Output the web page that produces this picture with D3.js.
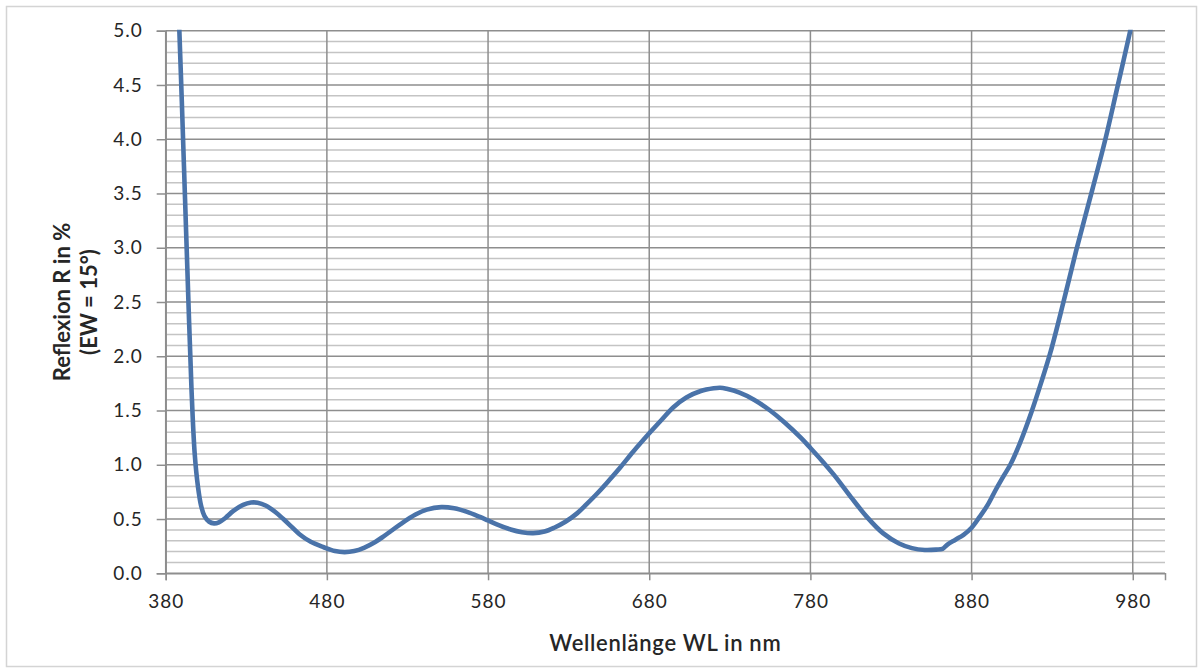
<!DOCTYPE html>
<html>
<head>
<meta charset="utf-8">
<script src="https://cdn.jsdelivr.net/npm/d3@7"></script>
<style>
  html, body { margin: 0; padding: 0; background: #fff; }
  svg { display: block; }
  text { font-family: Lato, "Open Sans", sans-serif; fill: #262626; }
</style>
</head>
<body>
<svg id="chart" width="1203" height="672"></svg>
<script>
// Reflection spectrum of the coating, angle of incidence 15°
const wavelength = [385, 387, 388, 390, 392, 394, 396, 398, 400, 402, 404, 407, 410, 413, 417, 422, 428, 433, 437, 442, 448, 453, 458, 463, 470, 478, 485, 491, 497, 503, 510, 515, 520, 526, 535, 542, 551, 559, 567, 575, 580, 587, 594, 601, 608, 615, 621, 628, 635, 641, 648, 655, 662, 670, 680, 688, 695, 703, 712, 720, 724, 728, 736, 745, 755, 764, 774, 780, 787, 795, 805, 815, 825, 835, 843, 851, 858, 862, 865, 870, 875, 880, 885, 890, 895, 900, 904, 910, 917, 923, 929, 937, 945, 955, 963, 970, 978, 985];
const reflection = [6.3, 5.65, 5.2, 4.35, 3.45, 2.55, 1.7, 1.1, 0.8, 0.62, 0.53, 0.475, 0.46, 0.47, 0.51, 0.575, 0.63, 0.652, 0.65, 0.625, 0.565, 0.5, 0.43, 0.36, 0.29, 0.24, 0.205, 0.195, 0.205, 0.235, 0.289, 0.338, 0.392, 0.456, 0.541, 0.587, 0.61, 0.599, 0.566, 0.519, 0.487, 0.442, 0.404, 0.379, 0.37, 0.385, 0.42, 0.475, 0.55, 0.635, 0.74, 0.855, 0.975, 1.12, 1.29, 1.42, 1.53, 1.62, 1.68, 1.705, 1.71, 1.7, 1.665, 1.6, 1.5, 1.39, 1.25, 1.155, 1.04, 0.9, 0.705, 0.52, 0.37, 0.275, 0.232, 0.215, 0.218, 0.225, 0.265, 0.31, 0.355, 0.42, 0.52, 0.63, 0.77, 0.9, 1.0, 1.2, 1.48, 1.75, 2.04, 2.5, 2.98, 3.54, 4.0, 4.45, 4.97, 5.45];

const xTicks = [380, 480, 580, 680, 780, 880, 980];
const yTicks = [0, 0.5, 1, 1.5, 2, 2.5, 3, 3.5, 4, 4.5, 5];
const yMinorTicks = d3.range(0, 51).map(i => i / 10);

const xTitle = "Wellenlänge WL in nm";
const yTitleLines = ["Reflexion R in %", "(EW = 15°)"];

const svg = d3.select("#chart");

// chart area frame
svg.append("rect")
  .attr("x", 6.5).attr("y", 6.5)
  .attr("width", 1190).attr("height", 660)
  .attr("fill", "#fff").attr("stroke", "#d4d4d4").attr("stroke-width", 1.5);

const plotLeft = 165.7, plotRight = 1165, plotTop = 30.7, plotBottom = 573.3;

const x = d3.scaleLinear().domain([380, 1000]).range([plotLeft, plotRight]);
const y = d3.scaleLinear().domain([0, 5]).range([plotBottom, plotTop]);

// minor horizontal gridlines
svg.append("g").selectAll("line")
  .data(yMinorTicks.filter(v => Math.round(v * 10) % 5 !== 0))
  .join("line")
  .attr("x1", plotLeft).attr("x2", plotRight)
  .attr("y1", d => y(d)).attr("y2", d => y(d))
  .attr("stroke", "#c4c4c4").attr("stroke-width", 1.5);

// major horizontal gridlines
svg.append("g").selectAll("line")
  .data(yTicks)
  .join("line")
  .attr("x1", plotLeft).attr("x2", plotRight)
  .attr("y1", d => y(d)).attr("y2", d => y(d))
  .attr("stroke", "#8e8e8e").attr("stroke-width", 1.5);

// vertical gridlines
svg.append("g").selectAll("line")
  .data(xTicks)
  .join("line")
  .attr("x1", d => x(d)).attr("x2", d => x(d))
  .attr("y1", plotTop).attr("y2", plotBottom)
  .attr("stroke", "#8e8e8e").attr("stroke-width", 1.5);

// y axis
const yAxis = svg.append("g")
  .attr("transform", `translate(${plotLeft},0)`)
  .call(d3.axisLeft(y).tickValues(yTicks).tickFormat(d3.format(".1f")).tickSize(9).tickPadding(14));
yAxis.select(".domain").attr("stroke", "#8e8e8e").attr("stroke-width", 1.5);
yAxis.selectAll(".tick line").attr("stroke", "#8e8e8e").attr("stroke-width", 1.5);
yAxis.selectAll(".tick text")
  .style("font-family", "Lato, 'Open Sans', sans-serif")
  .style("font-size", "19px").style("letter-spacing", "1px").attr("fill", "#262626");

// x axis
const xAxis = svg.append("g")
  .attr("transform", `translate(0,${plotBottom})`)
  .call(d3.axisBottom(x).tickValues(xTicks).tickFormat(d3.format("d")).tickSize(7).tickPadding(14));
xAxis.select(".domain").attr("stroke", "#8e8e8e").attr("stroke-width", 1.5);
xAxis.selectAll(".tick line").attr("stroke", "#8e8e8e").attr("stroke-width", 1.5);
xAxis.selectAll(".tick text")
  .style("font-family", "Lato, 'Open Sans', sans-serif")
  .style("font-size", "19px").style("letter-spacing", "1px").attr("fill", "#262626");

// spectrum curve, clipped to the plot area
svg.append("clipPath").attr("id", "plot-clip")
  .append("rect").attr("x", plotLeft).attr("y", plotTop - 1)
  .attr("width", plotRight - plotLeft).attr("height", plotBottom - plotTop + 2);

const line = d3.line()
  .x((d, i) => x(wavelength[i]))
  .y(d => y(d))
  .curve(d3.curveCatmullRom.alpha(0.5));

svg.append("path")
  .datum(reflection)
  .attr("clip-path", "url(#plot-clip)")
  .attr("d", line)
  .attr("fill", "none")
  .attr("stroke", "#4a73a9")
  .attr("stroke-width", 4.6)
  .attr("stroke-linejoin", "round")
  .attr("stroke-linecap", "round");

// axis titles
svg.append("text")
  .attr("x", (plotLeft + plotRight) / 2).attr("y", 651)
  .attr("text-anchor", "middle")
  .style("font-size", "22px").style("font-weight", "600").style("letter-spacing", "0.7px")
  .text(xTitle);

const yt = svg.append("text")
  .attr("transform", "translate(70,302) rotate(-90)")
  .attr("text-anchor", "middle")
  .style("font-size", "22px").style("font-weight", "700");
yt.selectAll("tspan").data(yTitleLines).join("tspan")
  .attr("x", 0).attr("dy", (d, i) => i === 0 ? 0 : 27)
  .text(d => d);
</script>
</body>
</html>
